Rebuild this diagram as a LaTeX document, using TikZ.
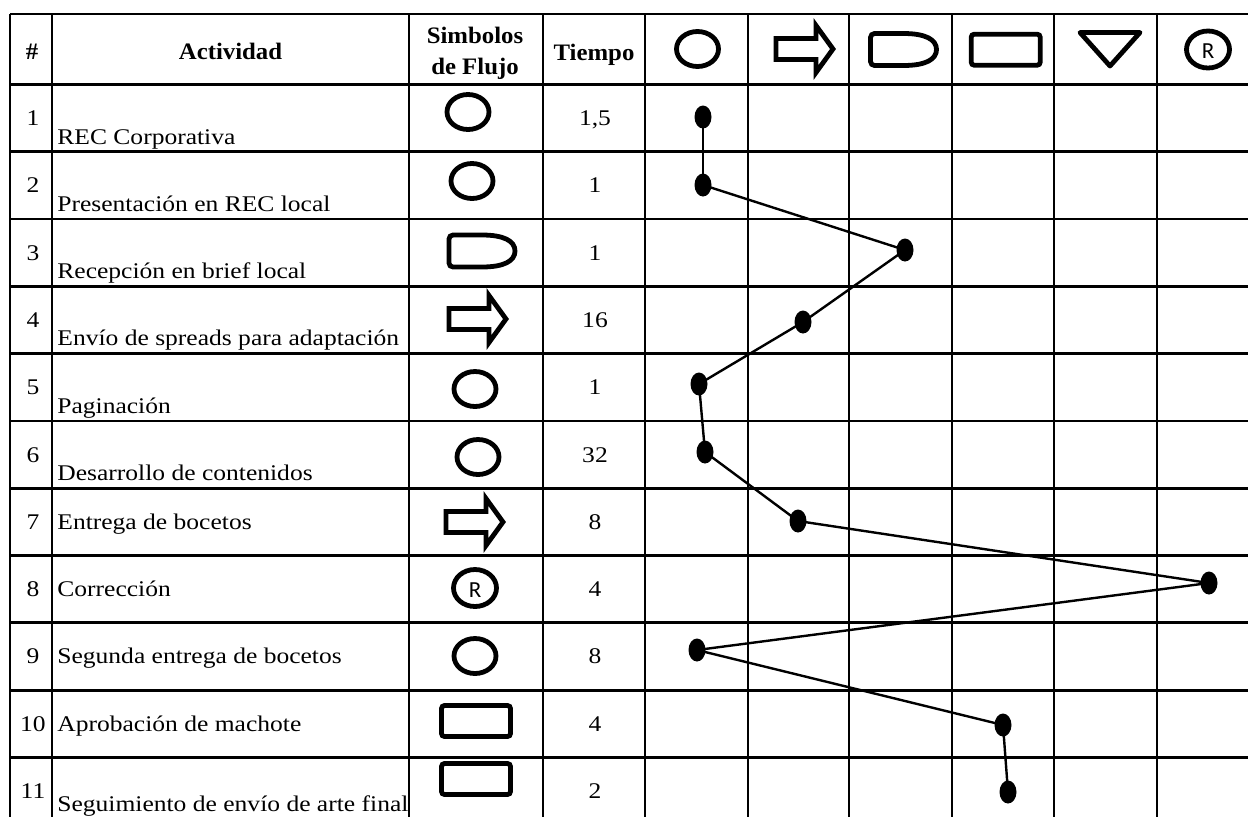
\documentclass[tikz,border=0pt]{standalone}
\usepackage{fontspec}
\setmainfont{Liberation Serif}[FakeStretch=1.14]
\newfontfamily\headfont{Liberation Serif}[FakeStretch=1.05]
\newfontfamily\symfont{Carlito}
\usepackage{tikz}
\usetikzlibrary{shapes.geometric}

\tikzset{
  rejilla/.style={line width=1.4pt},
  simbolo/.style={line width=2.4pt},
  enlace/.style={line width=1.2pt},
  punto/.style={ellipse, fill=black, inner sep=0pt, minimum width=8.5pt, minimum height=11.5pt},
  cabecera/.style={anchor=base, inner sep=0pt, font=\headfont\bfseries\fontsize{11.8}{13}\selectfont},
  celda/.style={anchor=base, inner sep=0pt, font=\fontsize{11.2}{13}\selectfont},
  actividad/.style={anchor=base west, inner sep=0pt, font=\fontsize{11.2}{13}\selectfont},
  % flow chart symbols, drawn round their centre
  operacion/.pic={\draw[simbolo] (0,0) ellipse [x radius=21, y radius=17.5];},
  transporte/.pic={\draw[simbolo] (-29,-10.5) -- (11,-10.5) -- (11,-23.5) -- (28,0)
      -- (11,23.5) -- (11,10.5) -- (-29,10.5) -- cycle;},
  demora/.pic={\draw[simbolo] (0,16) [rounded corners=2] -- (-33,16) -- (-33,-16)
      [sharp corners] -- (0,-16)
      .. controls (22,-16) and (33,-10) .. (33,0)
      .. controls (33,10) and (22,16) .. (0,16) -- cycle;},
  inspeccion/.pic={\draw[simbolo, rounded corners=1.5] (-34.5,-15.5) rectangle (34.5,15.5);},
  almacen/.pic={\draw[simbolo, line join=round] (-30,-16.5) -- (30,-16.5) -- (0,17) -- cycle;},
  reproceso/.pic={\draw[simbolo] (0,0) ellipse [x radius=21.5, y radius=18.5];
      \node[inner sep=0pt, font=\symfont\fontsize{11.5}{12}\selectfont] (-r) at (0,2) {R};},
}

\begin{document}
\begin{tikzpicture}[x=0.5pt, y=-0.5pt]
    \useasboundingbox (0,0) rectangle (1248,816);
    \clip (0,0) rectangle (1248,816);

    % table
    \draw[rejilla] (10,14) -- (1260,14);
    \foreach \fila in {0,...,11}
      \draw[rejilla] (10,84.4+67.3*\fila) -- (1260,84.4+67.3*\fila);
    \foreach \x in {10,52,409,543,645,748,849,952,1054,1157,1260}
      \draw[rejilla] (\x,14) -- (\x,830);

    % header
    \node[cabecera] (h0) at (32,59.5) {\#};
    \node[cabecera] (h1) at (230.5,59.5) {Actividad};
    \node[cabecera] (h2) at (475,43.3) {Simbolos};
    \node[cabecera] (h2b) at (475,74) {de Flujo};
    \node[cabecera] (h3) at (594,60) {Tiempo};
    \pic at (697.5,49) {operacion};
    \pic at (805,49) {transporte};
    \pic at (903.5,49.5) {demora};
    \pic at (1005.7,49.7) {inspeccion};
    \pic at (1110,49) {almacen};
    \pic (hr) at (1208,49.5) {reproceso};

    % rows
    \foreach \fila/\act/\tiempo/\desp in {
        1/REC Corporativa/{1,5}/26,
        2/Presentación en REC local/1/26,
        3/Recepción en brief local/1/26,
        4/Envío de spreads para adaptación/16/26,
        5/Paginación/1/26,
        6/Desarrollo de contenidos/32/26,
        7/Entrega de bocetos/8/7.5,
        8/Corrección/4/7.5,
        9/Segunda entrega de bocetos/8/7.5,
        10/Aprobación de machote/4/7.5,
        11/Seguimiento de envío de arte final/2/20}
    {
      \pgfmathsetmacro{\yc}{118.05+67.3*(\fila-1)}
      \node[celda] (n\fila) at (33,\yc+7.5) {\fila};
      \node[actividad] (a\fila) at (57,\yc+\desp) {\act};
      \node[celda] (t\fila) at (595,\yc+7.5) {\tiempo};
    }

    % symbols of each row
    \pic at (468,112) {operacion};
    \pic at (472,181) {operacion};
    \pic at (482,251) {demora};
    \pic at (478,319) {transporte};
    \pic at (475,389) {operacion};
    \pic at (478,457) {operacion};
    \pic at (475,522) {transporte};
    \pic (sr) at (475,588) {reproceso};
    \pic at (475,656) {operacion};
    \pic at (476,721) {inspeccion};
    \pic at (476,779) {inspeccion};

    % flow
    \node[punto] (p1) at (703,117) {};
    \node[punto] (p2) at (703,185) {};
    \node[punto] (p3) at (905,250) {};
    \node[punto] (p4) at (803,322) {};
    \node[punto] (p5) at (699,384) {};
    \node[punto] (p6) at (705,452) {};
    \node[punto] (p7) at (798,521) {};
    \node[punto] (p8) at (1209,583) {};
    \node[punto] (p9) at (697,650) {};
    \node[punto] (p10) at (1003,725) {};
    \node[punto] (p11) at (1008,792) {};
    \foreach \a/\b in {1/2,2/3,3/4,4/5,5/6,6/7,7/8,8/9,9/10,10/11}
      \draw[enlace] (p\a.center) -- (p\b.center);
\end{tikzpicture}
\end{document}
